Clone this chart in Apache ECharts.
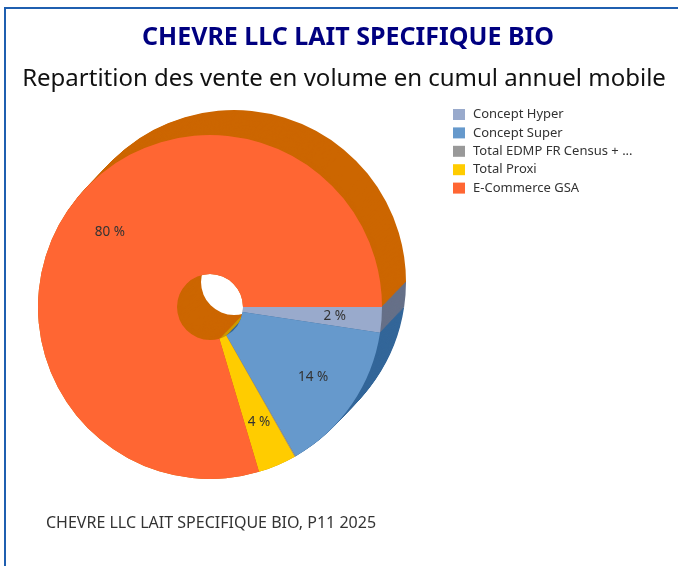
<!DOCTYPE html>
<html>
<head>
<meta charset="utf-8">
<script src="https://cdn.jsdelivr.net/npm/echarts@6/dist/echarts.min.js"></script>
<style>
html,body{margin:0;padding:0;background:#fff;}
#chart{width:678px;height:566px;}
</style>
</head>
<body>
<div id="chart"></div>
<script>
// Sales volume share by channel (rolling annual total)
const categories = ['Concept Hyper', 'Concept Super', 'Total EDMP FR Census + ...', 'Total Proxi', 'E-Commerce GSA'];
const shares = [2.4, 14.3, 0.1, 3.6, 79.6];
const faceColors = ['#99AACC', '#6699CC', '#999999', '#FFCC00', '#FF6633'];
const sideColors = ['#667088', '#336699', '#666666', '#CC9900', '#CC6600'];

const titleText = 'CHEVRE LLC LAIT SPECIFIQUE BIO';
const subtitleText = 'Repartition des vente en volume en cumul annuel mobile';
const footerText = 'CHEVRE LLC LAIT SPECIFIQUE BIO, P11 2025';

const chart = echarts.init(document.getElementById('chart'), null, { renderer: 'canvas' });

const front = [210, 307];
const back = [234, 282];
const radius = [33, 172];
const depthSteps = 26;

function sliceData(colors) {
  return categories.map((name, i) => ({
    name: name,
    value: shares[i],
    itemStyle: { color: colors[i] }
  }));
}

const series = [];
// extruded body: stacked copies from the back face toward the front face
for (let s = 0; s <= depthSteps; s++) {
  const t = s / depthSteps;
  series.push({
    type: 'pie',
    silent: true,
    center: [back[0] + (front[0] - back[0]) * t, back[1] + (front[1] - back[1]) * t],
    radius: radius,
    startAngle: 0,
    clockwise: true,
    avoidLabelOverlap: false,
    label: { show: false },
    labelLine: { show: false },
    itemStyle: { borderWidth: 0 },
    data: sliceData(sideColors),
    legendHoverLink: false
  });
}
// top face
series.push({
  type: 'pie',
  name: 'face',
  center: front,
  radius: radius,
  startAngle: 0,
  clockwise: true,
  label: { show: false },
  labelLine: { show: false },
  itemStyle: { borderWidth: 0 },
  data: sliceData(faceColors)
});
// percentage labels placed a bit further out on the face
series.push({
  type: 'pie',
  silent: true,
  center: front,
  radius: [72, 172],
  startAngle: 0,
  clockwise: true,
  avoidLabelOverlap: false,
  itemStyle: { color: 'rgba(0,0,0,0)', borderWidth: 0 },
  label: {
    position: 'inside',
    formatter: p => Math.round(p.value) + ' %',
    color: '#333333',
    fontSize: 13.5,
    fontFamily: 'Noto Sans'
  },
  labelLine: { show: false },
  data: categories.map((name, i) => ({
    name: name, value: shares[i],
    itemStyle: { color: 'rgba(0,0,0,0)' },
    label: { show: shares[i] >= 1 }
  }))
});

chart.setOption({
  animation: false,
  backgroundColor: '#ffffff',
  color: faceColors,
  title: [
    {
      text: titleText,
      left: 343, top: 20, textAlign: 'center',
      textStyle: { color: '#000080', fontSize: 25, fontWeight: 'bold', fontFamily: 'Noto Sans' }
    },
    {
      text: subtitleText,
      left: 339, top: 62, textAlign: 'center',
      textStyle: { color: '#111111', fontSize: 24, fontWeight: 'normal', fontFamily: 'Noto Sans' }
    },
    {
      text: footerText,
      left: 41, top: 510,
      textStyle: { color: '#333333', fontSize: 16, fontWeight: 'normal', fontFamily: 'Noto Sans' }
    }
  ],
  legend: {
    orient: 'vertical',
    left: 453, top: 108,
    padding: 0,
    itemWidth: 12, itemHeight: 11,
    itemGap: 5.4,
    icon: 'rect',
    selectedMode: false,
    data: categories.map((name, i) => ({ name: name, itemStyle: { color: faceColors[i] } })),
    textStyle: { color: '#333333', fontSize: 13, fontFamily: 'Noto Sans', padding: [0, 0, 0, 3] }
  },
  graphic: [
    {
      type: 'polyline',
      silent: true,
      shape: { points: [[5, 570], [5, 8], [680, 8]] },
      style: { stroke: '#1F5FB0', lineWidth: 2, fill: null }
    }
  ],
  series: series
});
</script>
</body>
</html>
